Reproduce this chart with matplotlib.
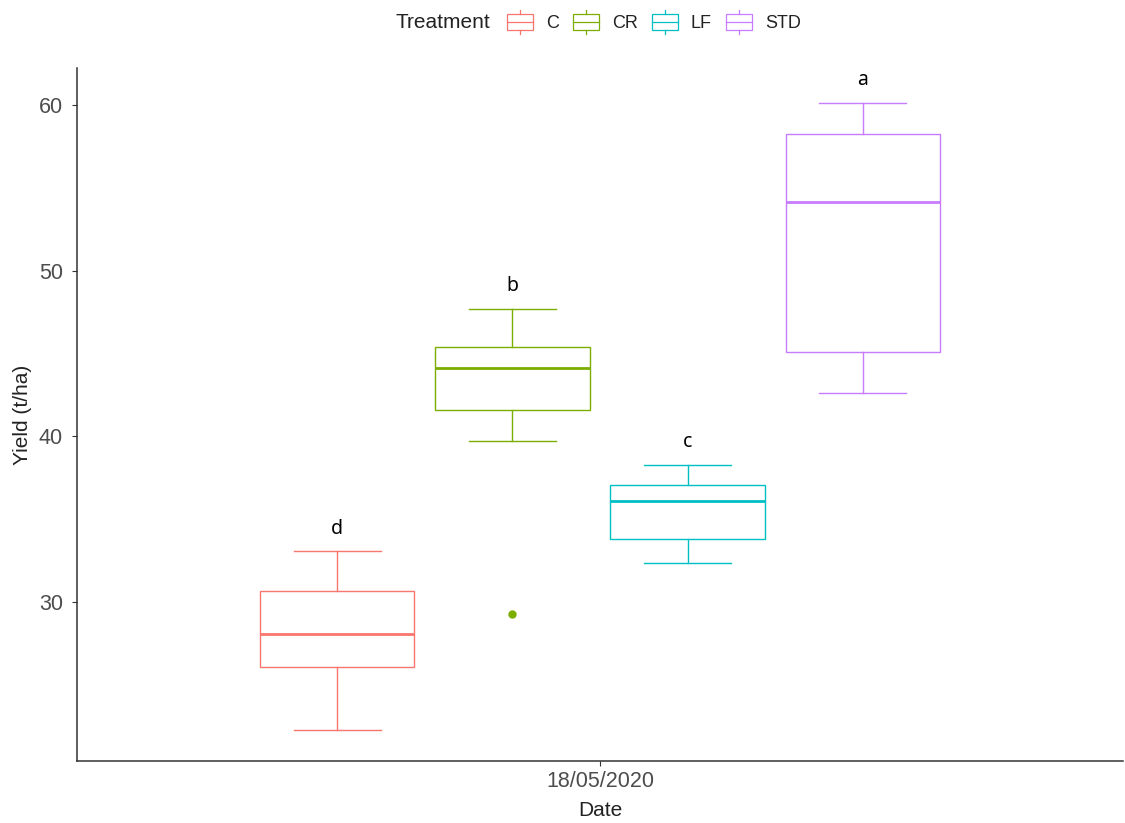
import matplotlib
matplotlib.use("Agg")
import matplotlib.pyplot as plt
from matplotlib.patches import Patch, Rectangle
from matplotlib.lines import Line2D
from matplotlib.legend_handler import HandlerBase

plt.rcParams["font.family"] = ["Liberation Sans", "DejaVu Sans"]

# Yield summary per treatment on 18/05/2020
TREATMENTS = ["C", "CR", "LF", "STD"]
COLORS = ["#F8766D", "#7CAE00", "#00BFC4", "#C77CFF"]
WHISKER_LOW = [22.3, 39.7, 32.4, 42.6]
Q1 = [26.1, 41.6, 33.8, 45.1]
MEDIAN = [28.1, 44.1, 36.1, 54.1]
Q3 = [30.7, 45.4, 37.1, 58.2]
WHISKER_HIGH = [33.1, 47.7, 38.3, 60.1]
OUTLIERS = [[], [29.3], [], []]
LETTERS = ["d", "b", "c", "a"]
DATE_LABEL = "18/05/2020"


class BoxKeyHandler(HandlerBase):
    """Draws a small boxplot glyph as legend key."""

    def create_artists(self, legend, orig_handle, xdescent, ydescent, width, height, fontsize, trans):
        color = orig_handle.get_edgecolor()
        x0, y0 = -xdescent, -ydescent
        lo, hi = 0.17, 0.83
        box = Rectangle((x0, y0 + lo * height), width, (hi - lo) * height,
                        facecolor="white", edgecolor=color, lw=0.9, transform=trans)
        med = Line2D([x0, x0 + width], [y0 + 0.5 * height] * 2, color=color, lw=0.9, transform=trans)
        top = Line2D([x0 + width / 2] * 2, [y0 + hi * height, y0 + height], color=color, lw=0.9, transform=trans)
        bot = Line2D([x0 + width / 2] * 2, [y0, y0 + lo * height], color=color, lw=0.9, transform=trans)
        return [box, med, top, bot]


fig = plt.figure(figsize=(11.25, 8.23), dpi=100)
ax = fig.add_axes([77 / 1125, 1 - 761 / 823, (1123 - 77) / 1125, (761 - 68) / 823])

dodge = 0.201
box_width = 0.177
positions = [1 + (i - 1.5) * dodge for i in range(len(TREATMENTS))]

for i, name in enumerate(TREATMENTS):
    stats = [dict(label=name, whislo=WHISKER_LOW[i], q1=Q1[i], med=MEDIAN[i],
                  q3=Q3[i], whishi=WHISKER_HIGH[i], fliers=OUTLIERS[i])]
    c = COLORS[i]
    ax.bxp(stats, positions=[positions[i]], widths=box_width, capwidths=[0.1],
           patch_artist=True, manage_ticks=False,
           boxprops=dict(facecolor="white", edgecolor=c, linewidth=1.0),
           medianprops=dict(color=c, linewidth=2.0),
           whiskerprops=dict(color=c, linewidth=1.0),
           capprops=dict(color=c, linewidth=1.0),
           flierprops=dict(marker="o", markersize=5, markerfacecolor=c, markeredgecolor=c))
    ax.text(positions[i], WHISKER_HIGH[i] + 1.35, LETTERS[i], ha="center", va="center",
            fontsize=14, family=["Noto Sans", "DejaVu Sans"], color="black")

ax.set_xlim(0.4, 1.6)
ax.set_ylim(20.45, 62.2)
ax.set_xticks([1])
ax.set_xticklabels([DATE_LABEL])
ax.set_yticks([30, 40, 50, 60])

for side in ["top", "right"]:
    ax.spines[side].set_visible(False)
for side in ["left", "bottom"]:
    ax.spines[side].set_color("#333333")
    ax.spines[side].set_linewidth(1.1)

ax.tick_params(axis="both", length=3.5, width=0.8, color="#333333", labelsize=15.5,
               labelcolor="#4D4D4D")
ax.tick_params(axis="y", pad=6.5)
ax.tick_params(axis="x", pad=4)
ax.set_xlabel("Date", fontsize=15, labelpad=6, color="#222222")
ax.set_ylabel("Yield (t/ha)", fontsize=15, labelpad=5, color="#222222")

handles = [Patch(edgecolor=c, facecolor="white") for c in COLORS]
fig.text(395 / 1125, 1 - 22 / 823, "Treatment", fontsize=15, ha="left", va="center", color="#222222")
fig.legend(handles, TREATMENTS, ncol=4, loc="center left",
           bbox_to_anchor=(507 / 1125, 1 - 22 / 823), frameon=False,
           handler_map={Patch: BoxKeyHandler()}, fontsize=13,
           handlelength=1.44, handleheight=1.6, handletextpad=0.72,
           columnspacing=0.78, borderpad=0, borderaxespad=0, labelcolor="#222222")

fig.savefig("out.png", dpi=100, facecolor="white")
